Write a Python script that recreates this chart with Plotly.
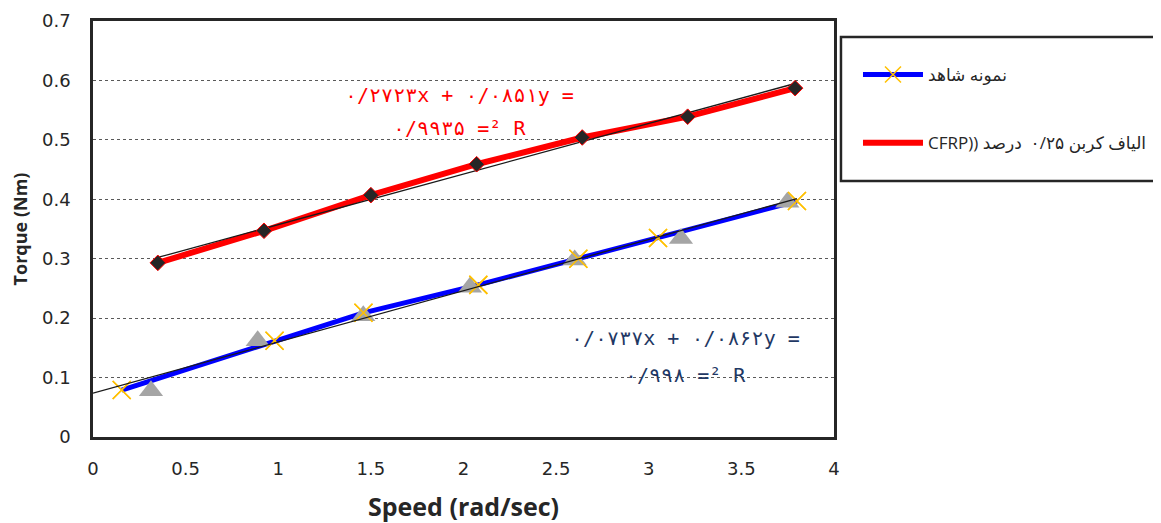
import plotly.graph_objects as go

# ---------------- data ----------------
blue_x = [0.155, 0.98, 1.46, 2.08, 2.62, 3.05, 3.80]
blue_y = [0.079, 0.162, 0.209, 0.256, 0.300, 0.335, 0.397]

gray_x = [0.313, 0.889, 1.459, 2.035, 2.60, 3.174, 3.748]
gray_y = [0.078, 0.162, 0.204, 0.252, 0.298, 0.334, 0.395]

red_x = [0.35, 0.923, 1.50, 2.071, 2.641, 3.21, 3.79]
red_y = [0.293, 0.347, 0.407, 0.459, 0.504, 0.539, 0.587]

blue_slope, blue_intercept = 0.0862, 0.0737
red_slope, red_intercept = 0.0851, 0.2723

blue_name = "نمونه شاهد"
red_name = "\u202Bالیاف کربن ۰/۲۵  درصد ((CFRP\u202C"

red_eq = ["۰/۲۷۲۳x + ۰/۰۸۵۱y =", "۰/۹۹۳۵ =² R"]
blue_eq = ["۰/۰۷۳۷x + ۰/۰۸۶۲y =", "۰/۹۹۸ =² R"]

x_ticks = [0, 0.5, 1, 1.5, 2, 2.5, 3, 3.5, 4]
x_tick_text = ["0", "0.5", "1", "1.5", "2", "2.5", "3", "3.5", "4"]
y_ticks = [0, 0.1, 0.2, 0.3, 0.4, 0.5, 0.6, 0.7]
y_tick_text = ["0", "0.1", "0.2", "0.3", "0.4", "0.5", "0.6", "0.7"]

FONT = "Open Sans, Noto Sans, DejaVu Sans, sans-serif"
TICKFONT = "DejaVu Sans, sans-serif"
EQFONT = "DejaVu Sans Mono, DejaVu Sans, monospace"

fig = go.Figure()

# blue line with X markers (legend)
fig.add_trace(go.Scatter(
    x=blue_x, y=blue_y, mode="lines+markers", name=blue_name,
    legendgroup="a",
    line=dict(color="#0000FF", width=5),
    marker=dict(symbol="x-thin", size=18, color="#FFC000",
                line=dict(color="#FFC000", width=1.5)),
))
# gray triangles
fig.add_trace(go.Scatter(
    x=gray_x, y=gray_y, mode="markers", showlegend=False,
    marker=dict(symbol="triangle-up", size=21, color="#A5A5A5"),
))
# X markers on top
fig.add_trace(go.Scatter(
    x=blue_x, y=blue_y, mode="markers", showlegend=False,
    marker=dict(symbol="x-thin", size=18, color="#FFC000",
                line=dict(color="#FFC000", width=1.5)),
))
# red line (legend)
fig.add_trace(go.Scatter(
    x=red_x, y=red_y, mode="lines", name=red_name,
    legendgroup="b",
    line=dict(color="#FF0000", width=6),
))

# linear trendlines
bx = [0, max(blue_x)]
fig.add_trace(go.Scatter(
    x=bx, y=[blue_intercept + blue_slope * v for v in bx],
    mode="lines", showlegend=False, line=dict(color="#1a1a1a", width=1.3),
))
rx = [min(red_x), max(red_x)]
fig.add_trace(go.Scatter(
    x=rx, y=[red_intercept + red_slope * v for v in rx],
    mode="lines", showlegend=False, line=dict(color="#1a1a1a", width=1.3),
))

# red diamonds
fig.add_trace(go.Scatter(
    x=red_x, y=red_y, mode="markers", showlegend=False,
    marker=dict(symbol="diamond", size=12, color="#262626",
                line=dict(color="#FF0000", width=1)),
))

# equations
fig.add_annotation(x=1.976, y=0.5755, text=red_eq[0], showarrow=False,
                   font=dict(family=EQFONT, size=20, color="#FF0000"))
fig.add_annotation(x=1.976, y=0.520, text=red_eq[1], showarrow=False,
                   font=dict(family=EQFONT, size=20, color="#FF0000"))
fig.add_annotation(x=3.196, y=0.1666, text=blue_eq[0], showarrow=False,
                   font=dict(family=EQFONT, size=20, color="#1F3864"))
fig.add_annotation(x=3.196, y=0.1043, text=blue_eq[1], showarrow=False,
                   font=dict(family=EQFONT, size=20, color="#1F3864"))

# legend frame
fig.add_shape(type="rect", xref="paper", yref="paper",
              x0=1.0094, x1=1.45, y0=0.6154, y1=0.9615,
              line=dict(color="#262626", width=2.5), fillcolor="rgba(0,0,0,0)")

fig.update_layout(
    width=1153, height=515,
    margin=dict(l=85, r=327, t=13, b=86, autoexpand=False),
    paper_bgcolor="white", plot_bgcolor="white",
    font=dict(family=FONT, color="#262626"),
    showlegend=True,
    legend=dict(x=0.7372, y=0.9049, xref="container", yref="container",
                xanchor="left", yanchor="top",
                bgcolor="rgba(0,0,0,0)", borderwidth=0,
                font=dict(family=FONT, size=17, color="#262626"),
                tracegroupgap=43, itemwidth=60),
    xaxis=dict(range=[0, 4], tickvals=x_ticks, ticktext=x_tick_text,
               showgrid=False, zeroline=False, automargin=False,
               showline=True, mirror=True, linecolor="#262626", linewidth=2.5,
               ticks="", ticklabelstandoff=14,
               tickfont=dict(family=TICKFONT, size=18, color="#262626"),
               title=dict(text="<b>Speed (rad/sec)</b>", standoff=26,
                          font=dict(family=FONT, size=25, color="#262626"))),
    yaxis=dict(range=[0, 0.7], tickvals=y_ticks, ticktext=y_tick_text,
               showgrid=True, gridcolor="#595959", griddash="dot", gridwidth=1,
               zeroline=False, automargin=False,
               showline=True, mirror=True, linecolor="#262626", linewidth=2.5,
               ticks="", ticklabelstandoff=16,
               tickfont=dict(family=TICKFONT, size=18, color="#262626"),
               title=dict(text="<b>Torque (Nm)</b>", standoff=12,
                          font=dict(family=FONT, size=18, color="#262626"))),
)

fig.write_html("out.html")
